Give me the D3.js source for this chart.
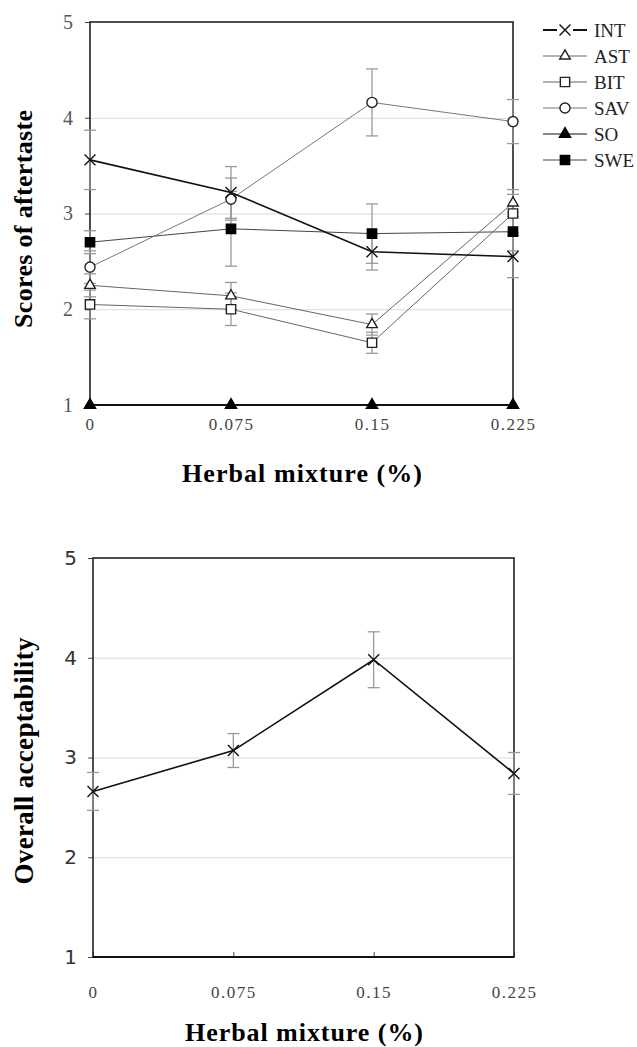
<!DOCTYPE html>
<html>
<head>
<meta charset="utf-8">
<script src="https://cdn.jsdelivr.net/npm/d3@7"></script>
<style>
  html, body { margin: 0; padding: 0; background: #fff; }
  svg { display: block; }
  .serif { font-family: "Liberation Serif", "Times New Roman", serif; }
  .sans { font-family: "DejaVu Sans", Verdana, sans-serif; }
</style>
</head>
<body>
<div id="chart"></div>
<script>
// x categories (herbal mixture %)
const doses = [0, 0.075, 0.15, 0.225];
const doseLabels = ['0', '0.075', '0.15', '0.225'];
const yTicks = [1, 2, 3, 4, 5];

// aftertaste scores (top panel)
const seriesNames = ['INT', 'AST', 'BIT', 'SAV', 'SO', 'SWE'];
const intValues = [3.56, 3.22, 2.60, 2.55];
const intErr    = [0.31, 0.27, 0.19, 0.22];
const astValues = [2.25, 2.14, 1.84, 3.11];
const astErr    = [0.12, 0.14, 0.11, 0.14];
const bitValues = [2.05, 2.00, 1.65, 3.00];
const bitErr    = [0.15, 0.17, 0.11, 0.20];
const savValues = [2.44, 3.15, 4.16, 3.96];
const savErr    = [0.17, 0.22, 0.35, 0.23];
const soValues  = [1, 1, 1, 1];
const soErr     = [0, 0, 0, 0];
const sweValues = [2.70, 2.84, 2.79, 2.81];
const sweErr    = [0.12, 0.39, 0.31, 0.20];

// overall acceptability (bottom panel)
const accValues = [2.66, 3.07, 3.98, 2.84];
const accErr    = [0.19, 0.17, 0.28, 0.21];

const W = 637, H = 1047;
const svg = d3.select('#chart').append('svg').attr('width', W).attr('height', H);

// marker styles per series
const styles = {
  INT: {sym: d3.symbolTimes, size: 80, fill: 'none', stroke: '#111', line: '#111', lw: 1.6},
  AST: {sym: d3.symbolTriangle2, size: 80, fill: '#fff', stroke: '#222', line: '#666', lw: 1},
  BIT: {sym: d3.symbolSquare2, size: 110, fill: '#fff', stroke: '#222', line: '#666', lw: 1},
  SAV: {sym: d3.symbolCircle, size: 80, fill: '#fff', stroke: '#222', line: '#777', lw: 1},
  SO:  {sym: d3.symbolTriangle2, size: 90, fill: '#000', stroke: '#000', line: '#111', lw: 1.5},
  SWE: {sym: d3.symbolSquare2, size: 110, fill: '#000', stroke: '#000', line: '#444', lw: 1}
};

function drawPanel(g, opts) {
  const {width, height, series, yFont, yLabelClass, yColor} = opts;
  const x = d3.scaleLinear().domain([0, 0.225]).range([0, width]);
  const y = d3.scaleLinear().domain([1, 5]).range([height, 0]);

  // gridlines
  g.append('g')
    .call(d3.axisLeft(y).tickValues([2, 3, 4]).tickSize(-width).tickFormat(''))
    .call(a => a.select('.domain').remove())
    .call(a => a.selectAll('line').attr('stroke', '#dadada').attr('stroke-width', 1.2));

  // y axis ticks + labels
  const ya = g.append('g')
    .call(d3.axisLeft(y).tickValues(yTicks).tickSize(5).tickPadding(opts.yPad).tickFormat(d3.format('d')));
  ya.select('.domain').remove();
  ya.selectAll('line').attr('stroke', '#444');
  ya.selectAll('text').attr('class', yLabelClass).attr('font-size', yFont).attr('fill', yColor);

  // x axis labels (no outer ticks)
  const xa = g.append('g').attr('transform', `translate(0,${height})`)
    .call(d3.axisBottom(x).tickValues(doses).tickSize(-5).tickPadding(opts.xPad)
      .tickFormat((d, i) => doseLabels[i]));
  xa.select('.domain').remove();
  xa.selectAll('line').attr('stroke', '#444');
  xa.selectAll('text').attr('class', 'serif').attr('font-size', 17)
    .attr('letter-spacing', '1.5px').attr('fill', '#444');

  // frame
  g.append('rect').attr('width', width).attr('height', height)
    .attr('fill', 'none').attr('stroke', '#222').attr('stroke-width', 1.6);
  g.append('line').attr('x1', 0).attr('x2', width).attr('y1', height).attr('y2', height)
    .attr('stroke', '#111').attr('stroke-width', 2.2);

  // error bars
  series.forEach(s => {
    const eg = g.append('g');
    s.values.forEach((v, i) => {
      const e = s.err[i];
      if (!e) return;
      const cx = x(doses[i]);
      eg.append('line').attr('x1', cx).attr('x2', cx).attr('y1', y(v - e)).attr('y2', y(v + e));
      [v - e, v + e].forEach(t => eg.append('line')
        .attr('x1', cx - 6).attr('x2', cx + 6).attr('y1', y(t)).attr('y2', y(t)));
    });
    eg.selectAll('line').attr('stroke', '#9a9a9a').attr('stroke-width', 1.3);
  });

  // lines
  const line = d3.line().x((d, i) => x(doses[i])).y(d => y(d));
  series.forEach(s => {
    const st = styles[s.name];
    g.append('path').datum(s.values).attr('d', line)
      .attr('fill', 'none').attr('stroke', st.line).attr('stroke-width', st.lw);
  });

  // markers
  series.forEach(s => {
    const st = styles[s.name];
    g.append('g').selectAll('path').data(s.values).join('path')
      .attr('transform', (d, i) => `translate(${x(doses[i])},${y(d)})`)
      .attr('d', d3.symbol(st.sym, st.size))
      .attr('fill', st.fill).attr('stroke', st.stroke).attr('stroke-width', 1.4);
  });
}

// ---------- top panel ----------
const topPanel = svg.append('g').attr('transform', 'translate(90,22)');
drawPanel(topPanel, {
  width: 423, height: 383, yFont: 20, yLabelClass: 'serif', yColor: '#555', xPad: 13, yPad: 12,
  series: [
    {name: 'SO', values: soValues, err: soErr},
    {name: 'SWE', values: sweValues, err: sweErr},
    {name: 'SAV', values: savValues, err: savErr},
    {name: 'BIT', values: bitValues, err: bitErr},
    {name: 'AST', values: astValues, err: astErr},
    {name: 'INT', values: intValues, err: intErr}
  ]
});

svg.append('text').attr('class', 'serif')
  .attr('transform', 'translate(32,219) rotate(-90)')
  .attr('text-anchor', 'middle').attr('font-weight', 'bold').attr('font-size', 26)
  .attr('textLength', 218).attr('lengthAdjust', 'spacing')
  .text('Scores of aftertaste');

svg.append('text').attr('class', 'serif')
  .attr('x', 182).attr('y', 482).attr('font-weight', 'bold').attr('font-size', 26)
  .attr('textLength', 240).attr('lengthAdjust', 'spacing')
  .text('Herbal mixture (%)');

// legend
const legend = svg.append('g').attr('transform', 'translate(543,30)');
seriesNames.forEach((name, i) => {
  const st = styles[name];
  const row = legend.append('g').attr('transform', `translate(0,${i * 26})`);
  if (name === 'INT') {
    row.append('line').attr('x1', 0).attr('x2', 14).attr('stroke', '#111').attr('stroke-width', 2);
    row.append('line').attr('x1', 30).attr('x2', 44).attr('stroke', '#111').attr('stroke-width', 2);
  } else {
    row.append('line').attr('x1', 0).attr('x2', 44).attr('stroke', st.line).attr('stroke-width', 1.2);
  }
  row.append('path').attr('transform', 'translate(22,0)')
    .attr('d', d3.symbol(st.sym, st.size))
    .attr('fill', st.fill).attr('stroke', st.stroke).attr('stroke-width', 1.4);
  row.append('text').attr('class', 'serif').attr('x', 51).attr('dy', '0.35em')
    .attr('font-size', 19).attr('fill', '#222').text(name);
});

// ---------- bottom panel ----------
const bottomPanel = svg.append('g').attr('transform', 'translate(93,558)');
drawPanel(bottomPanel, {
  width: 421, height: 399, yFont: 20, yLabelClass: 'sans', yColor: '#333', xPad: 29, yPad: 11,
  series: [{name: 'INT', values: accValues, err: accErr}]
});

svg.append('text').attr('class', 'serif')
  .attr('transform', 'translate(33,761) rotate(-90)')
  .attr('text-anchor', 'middle').attr('font-weight', 'bold').attr('font-size', 27)
  .attr('textLength', 247).attr('lengthAdjust', 'spacing')
  .text('Overall acceptability');

svg.append('text').attr('class', 'serif')
  .attr('x', 185).attr('y', 1041).attr('font-weight', 'bold').attr('font-size', 26)
  .attr('textLength', 238).attr('lengthAdjust', 'spacing')
  .text('Herbal mixture (%)');
</script>
</body>
</html>
